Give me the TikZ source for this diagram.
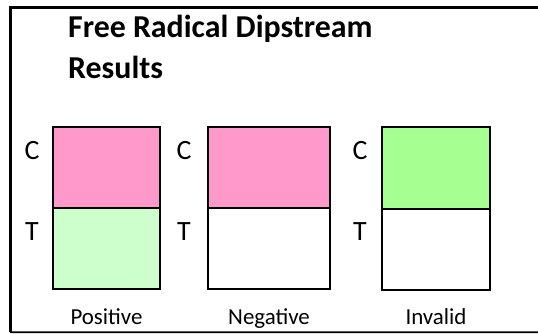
\documentclass[tikz,border=0pt]{standalone}
\usepackage{fontspec}
\setmainfont{Carlito}
\definecolor{pinkc}{RGB}{255,153,204}
\definecolor{lgreen}{RGB}{204,255,204}
\definecolor{vgreen}{RGB}{166,255,145}
\begin{document}
\begin{tikzpicture}[x=1bp,y=-1bp,
  zone/.style={draw=black,line width=2bp},
  frameline/.style={line width=3bp},
  lab/.style={font=\fontsize{28}{28}\selectfont,inner sep=0pt},
  bottomlab/.style={font=\fontsize{23}{23}\selectfont,inner sep=0pt,anchor=base},
  ttl/.style={font=\bfseries\fontsize{32}{41}\selectfont,inner sep=0pt,anchor=base west}]
\useasboundingbox (0,0) rectangle (538,333);
\clip (0,0) rectangle (538,333);
\coordinate (ftl) at (10,7.5);
\coordinate (ftr) at (545,7.5);
\coordinate (fbl) at (10,331.5);
\coordinate (fbr) at (545,331.5);
\draw[frameline] (ftr) -- (ftl) -- (fbl);
\draw[line width=1.6bp] (fbl) ++(0,0.7) -- ([yshift=-0.7bp]fbr);
% title
\node[ttl] (t1) at (68,37) {Free Radical Dipstream};
\node[ttl] (t2) at (68,78) {Results};
% box 1
\path[zone,fill=pinkc] (53,127) rectangle (160,208);
\path[zone,fill=lgreen] (53,208) rectangle (160,289);
% box 2
\path[zone,fill=pinkc] (208,127) rectangle (330,208);
\path[zone,fill=white] (208,208) rectangle (330,289);
% box 3
\path[zone,fill=vgreen] (382,127) rectangle (490,208.5);
\path[zone,fill=white] (382,208.5) rectangle (490,289.5);
% labels
\node[lab] (lc1) at (32,151) {C};
\node[lab] (lt1) at (32,232) {T};
\node[lab] (lc2) at (184,151) {C};
\node[lab] (lt2) at (184,232) {T};
\node[lab] (lc3) at (360,151) {C};
\node[lab] (lt3) at (360,232) {T};
\node[bottomlab] (p1) at (106.5,324) {Positive};
\node[bottomlab] (p2) at (269,324) {Negative};
\node[bottomlab] (p3) at (436,324) {Invalid};
\end{tikzpicture}
\end{document}
